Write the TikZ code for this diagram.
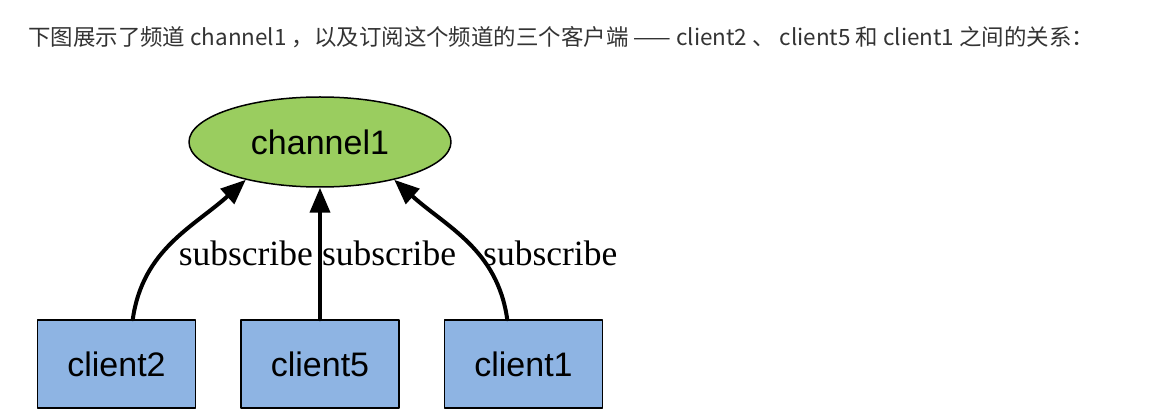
\documentclass[tikz,border=0pt]{standalone}
\usepackage{fontspec}
\setmainfont{Liberation Serif}
\newfontfamily\arialfont{Liberation Sans}
\newfontfamily\cjkfont{Noto Sans CJK SC}
\usetikzlibrary{arrows.meta}
\usetikzlibrary{positioning}
\usetikzlibrary{shapes.geometric}
\definecolor{chgreen}{RGB}{154,205,95}
\definecolor{clblue}{RGB}{142,180,227}
\definecolor{headgray}{RGB}{51,51,51}

\begin{document}
\begin{tikzpicture}[line cap=round,line join=round,>={Triangle[length=25pt,width=20pt]},x=1pt,y=1pt,
  chan/.style={ellipse,draw=black,line width=1.5pt,fill=chgreen,inner sep=0pt,
    minimum width=262pt,minimum height=90pt,font=\arialfont\fontsize{34}{36}\selectfont},
  client/.style={rectangle,draw=black,line width=1.5pt,fill=clblue,inner sep=0pt,
    minimum width=158pt,minimum height=88pt,font=\arialfont\fontsize{34}{36}\selectfont},
  sub/.style={->,line width=4pt},
  sublabel/.style={font=\fontsize{35.5}{37}\selectfont,inner sep=0pt}]
\useasboundingbox (0,0) rectangle (1164,418);
\node[anchor=west,inner sep=0pt,text=headgray,font=\cjkfont\fontsize{22.45}{24}\selectfont] (title) at (28,381)
  {下图展示了频道 channel1 ，以及订阅这个频道的三个客户端 —— client2 、 client5 和 client1 之间的关系：};
\node[chan] (ch) at (320,276) {channel1};
\node[client] (c5) at (320,54) {client5};
\node[client,left=44pt of c5] (c2) {client2};
\node[client,right=44pt of c5] (c1) {client1};
\draw[sub] (c2.70) to[out=82,in=-138] node[sublabel,pos=0.4,right=15pt] {subscribe} (ch.207);
\draw[sub] (c5.north) -- node[sublabel,right=0pt] {subscribe} (ch.south);
\draw[sub] (c1.110) to[out=98,in=-42] node[sublabel,pos=0.4,right=3pt] {subscribe} (ch.333);
\end{tikzpicture}
\end{document}
